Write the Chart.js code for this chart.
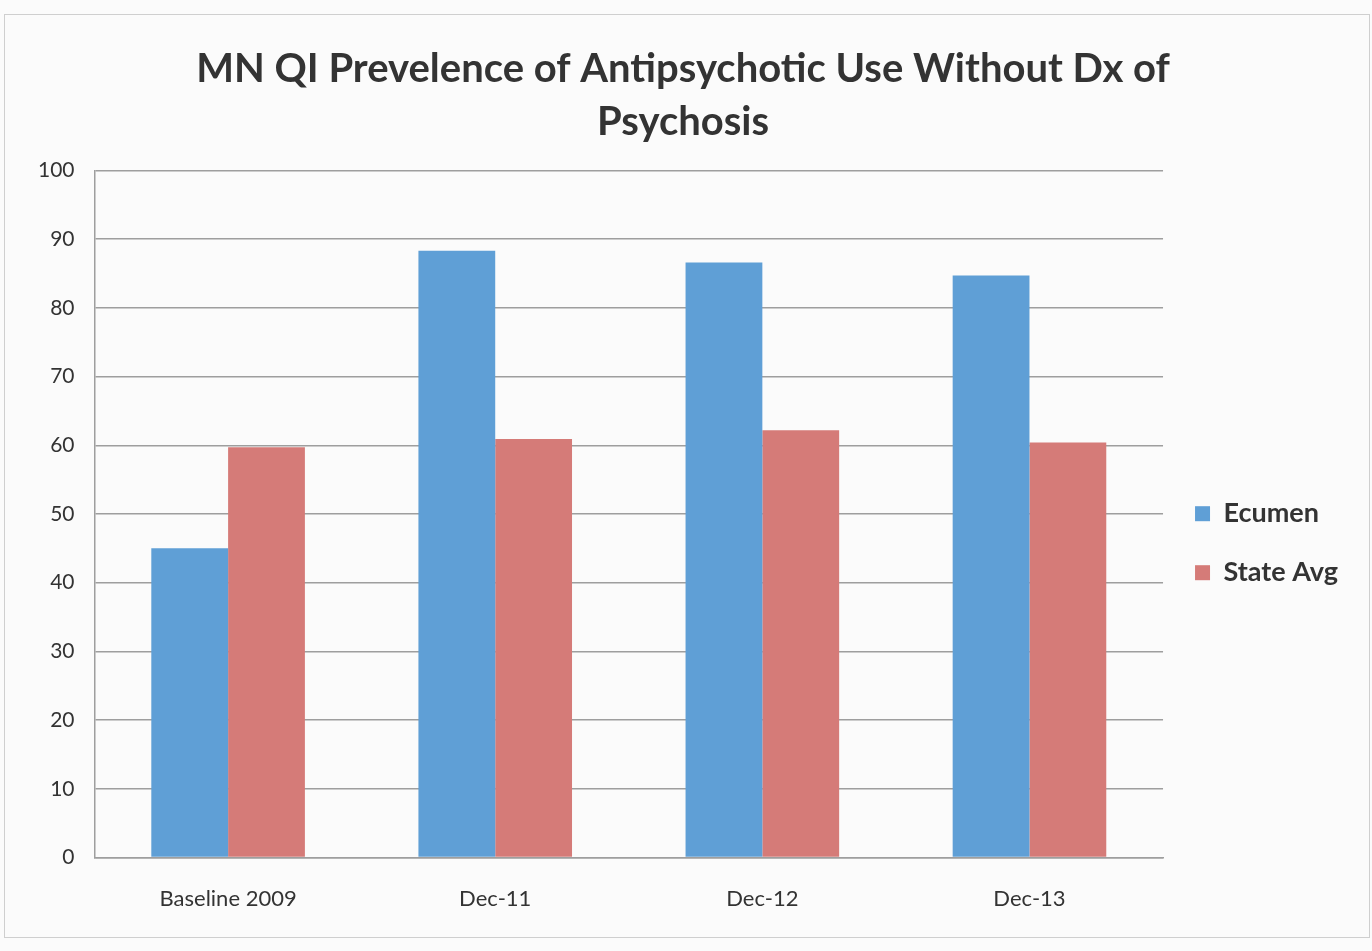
<!DOCTYPE html>
<html>
<head>
<meta charset="utf-8">
<script src="https://cdn.jsdelivr.net/npm/chart.js@4"></script>
<style>
  body { margin: 0; background: #fbfbfb; }
  #wrap { width: 1372px; height: 951px; position: relative; }
  #frame { position: absolute; left: 4px; top: 14px; width: 1364px; height: 922px; border: 1px solid #cfcfcf; pointer-events: none; }
</style>
</head>
<body>
<div id="wrap">
  <canvas id="qiChart" width="1372" height="951"></canvas>
  <div id="frame"></div>
</div>
<script>
const categories = ['Baseline 2009', 'Dec-11', 'Dec-12', 'Dec-13'];
const ecumen = [45, 88.3, 86.6, 84.7];
const stateAvg = [59.7, 60.9, 62.2, 60.4];
const titleLines = ['MN QI Prevelence of Antipsychotic Use Without Dx of', 'Psychosis'];

const font = "Lato, 'Open Sans', sans-serif";
const textColor = '#333333';

const ctx = document.getElementById('qiChart').getContext('2d');
const chart = new Chart(ctx, {
  type: 'bar',
  data: {
    labels: categories,
    datasets: [
      {
        label: 'Ecumen',
        data: ecumen,
        backgroundColor: '#5f9fd6',
        categoryPercentage: 0.575,
        barPercentage: 1
      },
      {
        label: 'State Avg',
        data: stateAvg,
        backgroundColor: '#d57b78',
        categoryPercentage: 0.575,
        barPercentage: 1
      }
    ]
  },
  options: {
    responsive: false,
    animation: false,
    layout: { padding: { top: 42, left: 18, right: 24, bottom: 11 } },
    plugins: {
      title: {
        display: true,
        text: titleLines,
        color: textColor,
        font: { family: font, size: 40, weight: 'bold', lineHeight: 1.33 },
        padding: { top: 0, bottom: 22 }
      },
      legend: {
        position: 'right',
        title: { display: true, text: ' ', padding: { top: 0, bottom: 90 } },
        labels: {
          color: textColor,
          font: { family: font, size: 27, weight: 'bold' },
          boxWidth: 15,
          boxHeight: 15,
          padding: 32
        }
      },
      tooltip: { enabled: false }
    },
    scales: {
      x: {
        grid: { display: false, drawTicks: false },
        border: { color: '#9e9e9e', width: 1.5 },
        ticks: { color: textColor, font: { family: font, size: 22 }, padding: 28 }
      },
      y: {
        min: 0,
        max: 100,
        ticks: { stepSize: 10, color: textColor, font: { family: font, size: 21 }, padding: 20 },
        grid: { color: '#9e9e9e', lineWidth: 1.5, drawTicks: false },
        border: { color: '#9e9e9e', width: 1.5 }
      }
    }
  }
});
</script>
</body>
</html>
